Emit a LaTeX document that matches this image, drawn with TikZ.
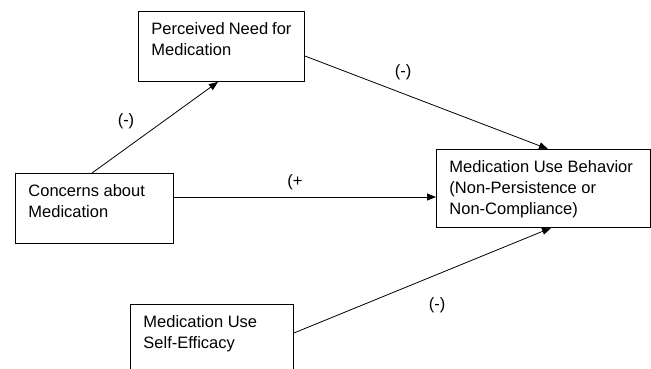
\documentclass[tikz,border=0pt]{standalone}
\usepackage{fontspec}
\setmainfont{Liberation Sans}
\usetikzlibrary{arrows.meta}

\newcommand{\boxtext}[3]{\parbox[t][#2][t]{#1}{#3}}

\begin{document}
\begin{tikzpicture}[x=1pt,y=-1pt,
    block/.style={draw, line width=0.9pt, anchor=north west, inner xsep=13pt,
      inner ysep=11pt, font=\fontsize{16.5}{21}\selectfont},
    link/.style={-{Triangle[length=9pt,width=7pt]}, line width=0.8pt},
    sign/.style={font=\fontsize{16.5}{21}\selectfont}]
  \useasboundingbox (0,0) rectangle (651,368);

  \node[block] (need) at (138,11) {\boxtext{140pt}{48pt}{Perceived Need for\\Medication}};
  \node[block] (concerns) at (15,173) {\boxtext{132pt}{48pt}{Concerns about\\Medication}};
  \node[block] (behavior) at (436,149) {\boxtext{188pt}{56pt}{Medication Use Behavior\\(Non-Persistence or\\Non-Compliance)}};
  \node[block] (efficacy) at (130,304) {\boxtext{137pt}{68pt}{Medication Use\\Self-Efficacy}};

  \coordinate (c1) at ([yshift=-24pt]concerns.north east);
  \draw[link] ([xshift=77pt]concerns.north west) -- ([xshift=80pt]need.south west);
  \draw[link] ([yshift=-45pt]need.north east) -- ([xshift=112pt]behavior.north west);
  \draw[link] (c1) -- (c1 -| behavior.west);
  \draw[link] ([yshift=-29pt]efficacy.north east) -- ([xshift=115pt]behavior.south west);

  \node[sign] (s1) at (126,121) {(-)};
  \node[sign] (s2) at (403,72) {(-)};
  \node[sign] (s3) at (295,182) {(+};
  \node[sign] (s4) at (437,305) {(-)};
\end{tikzpicture}
\end{document}
